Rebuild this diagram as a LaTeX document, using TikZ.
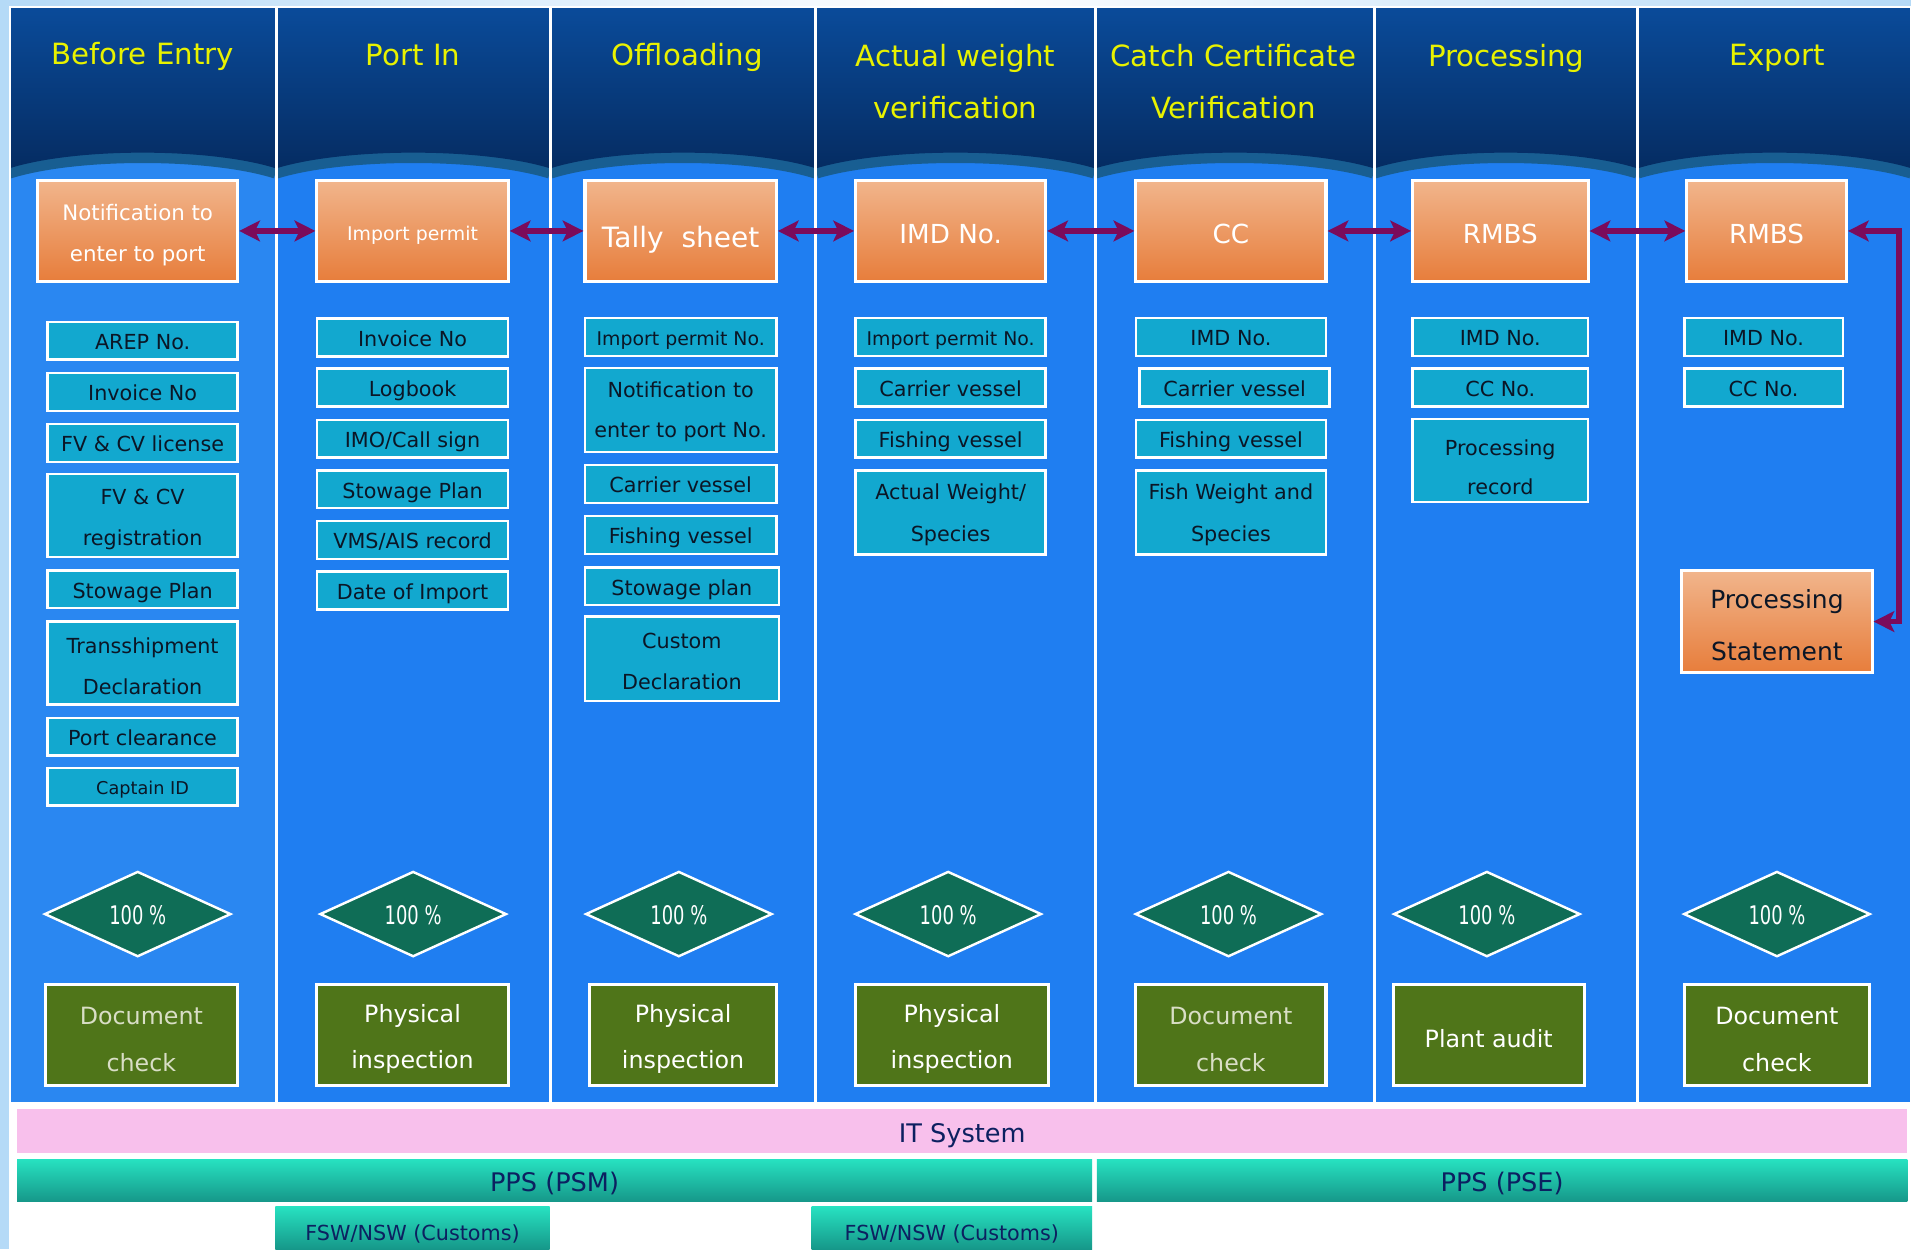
\documentclass[tikz,border=0pt]{standalone}
\usepackage{fontspec}
\setmainfont{DejaVu Sans}
\newfontfamily\etroite{DejaVu Sans}[FakeStretch=0.7]
\usepackage{tikz}
\usetikzlibrary{shapes.geometric,arrows.meta}
\definecolor{bleuclair}{HTML}{B5DAF7}
\definecolor{navyA}{HTML}{0A4B9A}
\definecolor{navyB}{HTML}{052C62}
\definecolor{bande}{HTML}{185E92}
\definecolor{corpsA}{HTML}{2A87F1}
\definecolor{corpsB}{HTML}{1F7EF1}
\definecolor{jaune}{HTML}{E8F200}
\definecolor{orangeA}{HTML}{F1B58C}
\definecolor{orangeB}{HTML}{E77D3B}
\definecolor{cyanpiece}{HTML}{12A8CF}
\definecolor{encre}{HTML}{0B1626}
\definecolor{violetfl}{HTML}{7B0B5B}
\definecolor{vertlos}{HTML}{0F6D56}
\definecolor{vertolive}{HTML}{4F7519}
\definecolor{pale}{HTML}{D9DEC6}
\definecolor{rose}{HTML}{F8C0EC}
\definecolor{tealA}{HTML}{27E2C1}
\definecolor{tealB}{HTML}{169789}
\definecolor{marine}{HTML}{0C2060}
% hauteur de la premiere ligne (texte sur deux lignes)
\newcommand\haut[1]{\rule{0pt}{#1}}

\begin{document}
\begin{tikzpicture}[x=1pt,y=-1pt,
	titre/.style={text=jaune, align=center, font=\fontsize{24}{43}\selectfont},
	titreseul/.style={text height=17.5pt, text depth=0pt},
	pieceorange/.style={draw=white, line width=2.5pt, top color=orangeA, bottom color=orangeB, text=white, inner sep=0pt, minimum height=83pt, align=center},
	piece/.style={draw=white, line width=2pt, fill=cyanpiece, text=encre, inner sep=0pt, minimum height=31pt, align=center, font=\fontsize{17}{34}\selectfont},
	uneligne/.style={text height=14.4pt, text depth=0pt},
	deuxlignes/.style={minimum height=68pt},
	losange/.style={diamond, draw=white, line width=2pt, fill=vertlos, text=white, inner sep=0pt, minimum width=153pt, minimum height=70pt, text height=17pt, text depth=0pt, font=\etroite\fontsize{21}{24}\selectfont},
	controle/.style={draw=white, line width=2.5pt, fill=vertolive, text=white, inner sep=0pt, minimum height=83pt, align=center, font=\fontsize{19.5}{38}\selectfont},
	barre/.style={inner sep=0pt, text=marine, minimum height=35pt, text height=19pt, text depth=0pt, font=\fontsize{21}{24}\selectfont},
	fleche/.style={{Stealth[length=17pt,width=17pt,inset=4pt]}-{Stealth[length=17pt,width=17pt,inset=4pt]}, line width=4.5pt, draw=violetfl}]
	\useasboundingbox (0,0) rectangle (1568,1025);
%					Tracé du fond :
	\fill[white] (0,0) rectangle (1568,1025);
	\fill[bleuclair] (0,0) rectangle (7,1025);
	\shade[left color=bleuclair, right color=bleuclair, middle color=white] (0,0) rectangle (1568,6);
%					Tracé des colonnes :
	\foreach \xa/\xb/\cc in {8/226/corpsA,227/451/corpsB,452/669/corpsB,670/898/corpsB,899/1127/corpsB,1128/1343/corpsB,1344/1568/corpsB}{
		\begin{scope}
			\clip (\xa,6) rectangle (\xb,905);
			\fill[\cc] (\xa,6) rectangle (\xb,905);
			\draw[bande, line width=9pt] (\xa,142) .. controls ({\xa+0.25*(\xb-\xa)},125) and ({\xb-0.25*(\xb-\xa)},125) .. (\xb,142);
			\shade[top color=navyA, bottom color=navyB] (\xa,6) -- (\xb,6) -- (\xb,138) .. controls ({\xb-0.25*(\xb-\xa)},121) and ({\xa+0.25*(\xb-\xa)},121) .. (\xa,138) -- cycle;
		\end{scope}
		\draw[white, line width=1.5pt] (\xa,6) rectangle (\xb,905);
	}
%					Titres des colonnes :
	\node[titre, titreseul] (h1) at (117,44) {Before Entry};
	\node[titre, titreseul] (h2) at (339,45) {Port In};
	\node[titre, titreseul] (h3) at (564,45) {Offloading};
	\node[titre] (h4) at (784,67) {Actual weight\\verification};
	\node[titre] (h5) at (1012,67) {Catch Certificate\\Verification};
	\node[titre, titreseul] (h6) at (1236,46) {Processing};
	\node[titre, titreseul] (h7) at (1458,45) {Export};
%					Pièces principales :
	\node[pieceorange, minimum width=164pt, font=\fontsize{17.5}{33}\selectfont] (notif) at (113,189.5) {\haut{20pt}Notification to\\enter to port};
	\node[pieceorange, minimum width=157pt, text height=16.3pt, text depth=0pt, font=\fontsize{15.5}{20}\selectfont] (permis) at (338.5,189.5) {Import permit};
	\node[pieceorange, minimum width=157pt, text height=27.8pt, text depth=0pt, font=\fontsize{23}{26}\selectfont] (tally) at (558.5,189.5) {Tally~~sheet};
	\node[pieceorange, minimum width=156pt, text height=20.7pt, text depth=0pt, font=\fontsize{21.5}{24}\selectfont] (imd) at (780,189.5) {IMD No.};
	\node[pieceorange, minimum width=156pt, text height=20.7pt, text depth=0pt, font=\fontsize{21.5}{24}\selectfont] (cc) at (1010,189.5) {CC};
	\node[pieceorange, minimum width=144pt, text height=20.7pt, text depth=0pt, font=\fontsize{21.5}{24}\selectfont] (rmbsa) at (1231,189.5) {RMBS};
	\node[pieceorange, minimum width=131pt, text height=20.7pt, text depth=0pt, font=\fontsize{21.5}{24}\selectfont] (rmbsb) at (1449.5,189.5) {RMBS};
	\node[pieceorange, minimum width=156pt, minimum height=84pt, text=encre, font=\fontsize{20.5}{42}\selectfont] (pstat) at (1458,510) {\haut{21.6pt}Processing\\Statement};
%					Documents de chaque étape :
	\node[piece, uneligne, minimum width=156pt] (a1) at (117,279.5) {AREP No.};
	\node[piece, uneligne, minimum width=156pt] (a2) at (117,321.5) {Invoice No};
	\node[piece, uneligne, minimum width=156pt] (a3) at (117,363.5) {FV \& CV license};
	\node[piece, deuxlignes, minimum width=156pt] (a4) at (117,423) {\haut{19pt}FV \& CV\\registration};
	\node[piece, uneligne, minimum width=156pt] (a5) at (117,483.5) {Stowage Plan};
	\node[piece, deuxlignes, minimum width=156pt] (a6) at (117,544) {\haut{18pt}Transshipment\\Declaration};
	\node[piece, uneligne, minimum width=156pt] (a7) at (117,604.5) {Port clearance};
	\node[piece, minimum width=156pt, text height=12.6pt, text depth=0pt, font=\fontsize{14.5}{17}\selectfont] (a8) at (117,645.5) {Captain ID};

	\node[piece, uneligne, minimum width=157pt] (b1) at (338.5,277) {Invoice No};
	\node[piece, uneligne, minimum width=157pt] (b2) at (338.5,318) {Logbook};
	\node[piece, uneligne, minimum width=157pt] (b3) at (338.5,360) {IMO/Call sign};
	\node[piece, uneligne, minimum width=157pt] (b4) at (338.5,401.5) {Stowage Plan};
	\node[piece, uneligne, minimum width=157pt] (b5) at (338.5,443) {VMS/AIS record};
	\node[piece, uneligne, minimum width=157pt] (b6) at (338.5,484.5) {Date of Import};

	\node[piece, minimum width=157pt, text height=13.3pt, text depth=0pt, font=\fontsize{15.5}{18}\selectfont] (c1) at (558.5,276.5) {Import permit No.};
	\node[piece, minimum width=157pt, minimum height=69pt, font=\fontsize{17}{33}\selectfont] (c2) at (558.5,336.5) {\haut{16pt}Notification to\\enter to port No.};
	\node[piece, uneligne, minimum width=157pt] (c3) at (558.5,397) {Carrier vessel};
	\node[piece, uneligne, minimum width=157pt] (c4) at (558.5,439) {Fishing vessel};
	\node[piece, uneligne, minimum width=159pt] (c5) at (559.5,481) {Stowage plan};
	\node[piece, minimum width=159pt, minimum height=69pt] (c6) at (559.5,540.5) {\haut{17pt}Custom\\Declaration};

	\node[piece, minimum width=156pt, text height=13.3pt, text depth=0pt, font=\fontsize{15.5}{18}\selectfont] (d1) at (780,276.5) {Import permit No.};
	\node[piece, uneligne, minimum width=156pt] (d2) at (780,318) {Carrier vessel};
	\node[piece, uneligne, minimum width=156pt] (d3) at (780,360) {Fishing vessel};
	\node[piece, minimum width=156pt, minimum height=69pt] (d4) at (780,420.5) {\haut{17pt}Actual Weight/\\Species};

	\node[piece, uneligne, minimum width=156pt] (e1) at (1010,276.5) {IMD No.};
	\node[piece, uneligne, minimum width=156pt] (e2) at (1013,318) {Carrier vessel};
	\node[piece, uneligne, minimum width=156pt] (e3) at (1010,360) {Fishing vessel};
	\node[piece, minimum width=156pt, minimum height=69pt] (e4) at (1010,420.5) {\haut{17pt}Fish Weight and\\Species};

	\node[piece, uneligne, minimum width=144pt] (f1) at (1231,276.5) {IMD No.};
	\node[piece, uneligne, minimum width=144pt] (f2) at (1231,318) {CC No.};
	\node[piece, deuxlignes, minimum width=144pt, font=\fontsize{17}{32}\selectfont] (f3) at (1231,378) {\haut{24pt}Processing\\record};

	\node[piece, uneligne, minimum width=130pt] (g1) at (1447,276.5) {IMD No.};
	\node[piece, uneligne, minimum width=130pt] (g2) at (1447,318) {CC No.};
%					Taux de contrôle :
	\node[losange] (p1) at (113,750) {100 \%};
	\node[losange] (p2) at (339,750) {100 \%};
	\node[losange] (p3) at (557,750) {100 \%};
	\node[losange] (p4) at (778,750) {100 \%};
	\node[losange] (p5) at (1008,750) {100 \%};
	\node[losange] (p6) at (1220,750) {100 \%};
	\node[losange] (p7) at (1458,750) {100 \%};
%					Type de contrôle :
	\node[controle, minimum width=158pt, text=pale] (k1) at (116,849.5) {\haut{21pt}Document\\check};
	\node[controle, minimum width=157pt] (k2) at (338.5,849.5) {\haut{21pt}Physical\\inspection};
	\node[controle, minimum width=153pt] (k3) at (560.5,849.5) {\haut{21pt}Physical\\inspection};
	\node[controle, minimum width=158pt] (k4) at (781,849.5) {\haut{21pt}Physical\\inspection};
	\node[controle, minimum width=156pt, text=pale] (k5) at (1010,849.5) {\haut{21pt}Document\\check};
	\node[controle, minimum width=157pt, text height=19.2pt, text depth=0pt] (k6) at (1221.5,849.5) {Plant audit};
	\node[controle, minimum width=152pt] (k7) at (1458,849.5) {\haut{21pt}Document\\check};
%					Flèches entre les étapes :
	\draw[fleche] (notif.east) -- (permis.west);
	\draw[fleche] (permis.east) -- (tally.west);
	\draw[fleche] (tally.east) -- (imd.west);
	\draw[fleche] (imd.east) -- (cc.west);
	\draw[fleche] (cc.east) -- (rmbsa.west);
	\draw[fleche] (rmbsa.east) -- (rmbsb.west);
	\coordinate (coin) at (1558,189.5);
	\draw[fleche] (rmbsb.east) -- (coin) |- (pstat.east);
%					Systèmes informatiques :
	\node[barre, fill=rose, minimum width=1551pt, minimum height=36pt] (it) at (789.5,928) {IT System};
	\node[barre, top color=tealA, bottom color=tealB, minimum width=882pt] (psm) at (455,968.5) {PPS (PSM)};
	\node[barre, top color=tealA, bottom color=tealB, minimum width=665pt] (pse) at (1232.5,968.5) {PPS (PSE)};
	\node[barre, top color=tealA, bottom color=tealB, minimum width=225pt, text height=21.4pt, font=\fontsize{17}{20}\selectfont] (fswa) at (338.5,1007.5) {FSW/NSW (Customs)};
	\node[barre, top color=tealA, bottom color=tealB, minimum width=230pt, text height=21.4pt, font=\fontsize{17}{20}\selectfont] (fswb) at (781,1007.5) {FSW/NSW (Customs)};
\end{tikzpicture}
\end{document}
